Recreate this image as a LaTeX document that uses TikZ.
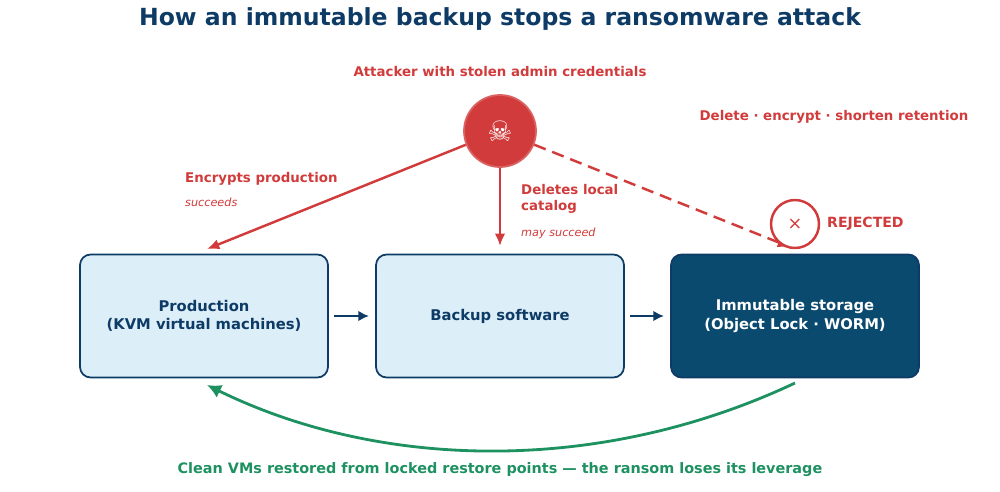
\documentclass[tikz,border=0pt]{standalone}
\usepackage{fontspec}
\setmainfont{DejaVu Sans}
\usepackage{xcolor}
\usetikzlibrary{positioning,arrows.meta}
\definecolor{navy}{HTML}{0D3B66}
\definecolor{darkbox}{HTML}{0B4A6F}
\definecolor{lightbox}{HTML}{DCEEF8}
\definecolor{alert}{HTML}{D13B3B}
\definecolor{safe}{HTML}{1E9160}
\tikzset{
  box/.style={draw=navy, line width=1pt, rounded corners=6pt, minimum width=4.96cm, minimum height=2.46cm, align=center, font=\fontsize{8.4}{10.5}\selectfont\bfseries},
  redlbl/.style={text=alert, font=\fontsize{7.6}{9}\selectfont\bfseries, align=left},
  note/.style={text=alert, font=\fontsize{6.4}{8}\selectfont\itshape},
  attack/.style={draw=alert, line width=1.4pt, -{Latex[length=7pt,width=6pt]}},
  flow/.style={draw=navy, line width=1.4pt, -{Latex[length=6pt,width=6pt]}}
}
\begin{document}
\begin{tikzpicture}[x=0.02cm,y=-0.02cm]
\useasboundingbox (0,0) rectangle (1000,491);

% title
\node (title) at (500,19) {\textcolor{navy}{\fontsize{13.4}{16}\selectfont\bfseries How an immutable backup stops a ransomware attack}};

% attacker
\node[redlbl] (who) at (500,72) {Attacker with stolen admin credentials};
\node[circle, fill=alert, draw=alert!80!white, line width=1pt, minimum size=1.44cm, inner sep=0pt, text=white, font=\fontsize{16}{16}\selectfont] (att) at (500,131) {☠};
\node[redlbl] (acts) at (834,117) {Delete · encrypt · shorten retention};

% boxes
\node[box, fill=lightbox, text=navy] (prod) at (204,316) {Production\\(KVM virtual machines)};
\node[box, fill=lightbox, text=navy] (backup) at (500,316) {Backup software};
\node[box, fill=darkbox, text=white] (store) at (795,316) {Immutable storage\\(Object Lock · WORM)};

\draw[flow] (prod.east) ++(5,0) -- (369,316);
\draw[flow] (backup.east) ++(5,0) -- (664,316);

% attack arrows
\coordinate (hitprod) at (207,249);
\coordinate (hitback) at (500,246);
\coordinate (hitstore) at (790,247);
\draw[attack] (att) -- (hitprod);
\draw[attack] (att) -- (hitback);
\draw[attack, dashed, dash pattern=on 7pt off 4pt] (att) -- (hitstore);

\node[redlbl, anchor=west] (enc) at (179,179) {Encrypts production};
\node[note, anchor=west] (encn) at (179,202) {succeeds};
\node[redlbl, anchor=west] (del) at (515,199) {Deletes local\\catalog};
\node[note, anchor=west] (deln) at (515,233) {may succeed};

% rejected
\node[circle, draw=alert, line width=1.4pt, fill=white, minimum size=0.96cm, text=alert, font=\fontsize{10}{10}\selectfont] (rej) at (795,224) {×};
\node[redlbl, anchor=west, font=\fontsize{8}{10}\selectfont\bfseries] (rejl) at (821,224) {REJECTED};

% restore
\coordinate (from) at (795,383);
\draw[safe, line width=1.6pt, -{Latex[length=8pt,width=8pt]}] (from) .. controls (600,475) and (380,470) .. (207,385);
\node[text=safe, font=\fontsize{8.2}{10}\selectfont\bfseries] (clean) at (500,470) {Clean VMs restored from locked restore points — the ransom loses its leverage};
\end{tikzpicture}
\end{document}
